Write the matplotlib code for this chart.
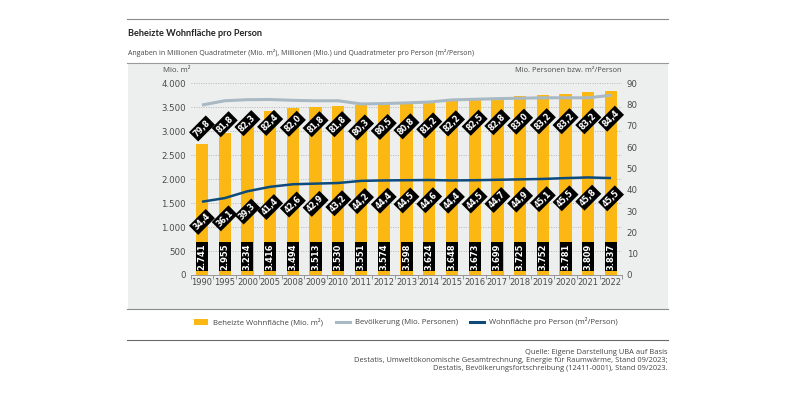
import matplotlib
matplotlib.use("Agg")
import matplotlib.pyplot as plt
from matplotlib.patches import Rectangle, Patch
from matplotlib.lines import Line2D
import numpy as np

years = ["1990", "1995", "2000", "2005", "2008", "2009", "2010", "2011", "2012", "2013",
         "2014", "2015", "2016", "2017", "2018", "2019", "2020", "2021", "2022"]
wohnflaeche = [2741, 2955, 3234, 3416, 3494, 3513, 3530, 3551, 3574, 3598,
               3624, 3648, 3673, 3699, 3725, 3752, 3781, 3809, 3837]
bevoelkerung = [79.8, 81.8, 82.3, 82.4, 82.0, 81.8, 81.8, 80.3, 80.5, 80.8,
                81.2, 82.2, 82.5, 82.8, 83.0, 83.2, 83.2, 83.2, 84.4]
pro_person = [34.4, 36.1, 39.3, 41.4, 42.6, 42.9, 43.2, 44.2, 44.4, 44.5,
              44.6, 44.4, 44.5, 44.7, 44.9, 45.1, 45.5, 45.8, 45.5]

C_BAR = "#FBB814"
C_POP = "#A9B9C4"
C_PP = "#0D4A7C"
C_TXT = "#4a4a4a"
FONT = ["Open Sans", "DejaVu Sans"]

fig = plt.figure(figsize=(8, 4), dpi=100)
W, H = 800, 400

def fx(x): return x / W
def fy(y): return 1 - y / H

# panel background
fig.patches.append(Rectangle((fx(128), fy(309)), fx(668) - fx(128), fy(63) - fy(309),
                             transform=fig.transFigure, facecolor="#EDEFEF", edgecolor="none", zorder=-10))
for yy, c, lw in [(19, "#8a8a8a", 0.8), (63, "#9a9a9a", 0.8), (309, "#8a8a8a", 0.8), (340, "#6a6a6a", 0.8)]:
    fig.add_artist(Line2D([fx(127), fx(668)], [fy(yy), fy(yy)], transform=fig.transFigure,
                          color=c, lw=lw, zorder=-5))

fig.text(fx(128), fy(33), "Beheizte Wohnfläche pro Person", fontsize=6.6, fontweight="bold",
         family=["Lato", "DejaVu Sans"], color="#222222", va="center")
fig.text(fx(128), fy(53), "Angaben in Millionen Quadratmeter (Mio. m²), Millionen (Mio.) und Quadratmeter pro Person (m²/Person)",
         fontsize=5.0, family=FONT, color="#444444", va="center")
fig.text(fx(177), fy(71), "Mio. m²", fontsize=5.6, family=FONT, color=C_TXT, va="center", ha="center")
fig.text(fx(622), fy(71), "Mio. Personen bzw. m²/Person", fontsize=5.4, family=FONT, color=C_TXT,
         va="center", ha="right")

ax = fig.add_axes([fx(190.6), fy(275), fx(622.4) - fx(190.6), fy(83.3) - fy(275)])
ax.set_facecolor("none")
x = np.arange(len(years))
ax.bar(x, wohnflaeche, width=0.54, color=C_BAR, zorder=2)
ax.set_xlim(-0.5, len(years) - 0.5)
ax.set_ylim(0, 4000)
ax.set_yticks(np.arange(0, 4001, 500))
ax.set_yticklabels([f"{v:,}".replace(",", ".") for v in range(0, 4001, 500)])
ax.grid(axis="y", color="#b5b5b5", linestyle=(0, (1, 1.5)), lw=0.7, zorder=1)
ax.set_xticks(x)
ax.set_xticklabels(years)
ax.set_xticks(np.arange(-0.5, len(years), 1), minor=True)
ax.tick_params(axis="x", which="major", length=0, labelsize=6.0, colors=C_TXT, pad=2)
ax.tick_params(axis="x", which="minor", length=3, color="#888888", width=0.6)
ax.tick_params(axis="y", length=0, labelsize=6.2, colors=C_TXT, pad=3.5)
for s in ["top", "right", "left"]:
    ax.spines[s].set_visible(False)
ax.spines["bottom"].set_color("#888888")
ax.spines["bottom"].set_linewidth(0.6)

for xi, v in zip(x, wohnflaeche):
    ax.text(xi, 385, f"{v:,}".replace(",", "."), rotation=90, ha="center", va="center",
            fontsize=6.0, fontweight="bold", color="white", zorder=5,
            bbox=dict(boxstyle="square,pad=0.18", facecolor="black", edgecolor="none"))

ax2 = ax.twinx()
ax2.set_ylim(0, 90)
ax2.set_yticks(np.arange(0, 91, 10))
ax2.tick_params(axis="y", length=0, labelsize=6.2, colors=C_TXT, pad=3)
for s in ax2.spines.values():
    s.set_visible(False)
ax2.plot(x, bevoelkerung, color=C_POP, lw=2.2, zorder=3, solid_capstyle="butt")
ax2.plot(x, pro_person, color=C_PP, lw=1.8, zorder=3, solid_capstyle="butt")

def fmt(v):
    return f"{v:.1f}".replace(".", ",")

for xi, v in zip(x, bevoelkerung):
    ax2.text(xi, v - 11, fmt(v), rotation=45, ha="center", va="center", fontsize=5.8,
             fontweight="bold", color="white", zorder=6, rotation_mode="anchor",
             bbox=dict(boxstyle="square,pad=0.25", facecolor="black", edgecolor="none"))
for xi, v in zip(x, pro_person):
    ax2.text(xi, v - 9.5, fmt(v), rotation=45, ha="center", va="center", fontsize=5.8,
             fontweight="bold", color="white", zorder=6, rotation_mode="anchor",
             bbox=dict(boxstyle="square,pad=0.25", facecolor="black", edgecolor="none"))

handles = [Patch(facecolor=C_BAR, edgecolor="none"),
           Line2D([], [], color=C_POP, lw=2.2),
           Line2D([], [], color=C_PP, lw=2.2)]
labels = ["Beheizte Wohnfläche (Mio. m²)", "Bevölkerung (Mio. Personen)",
          "Wohnfläche pro Person (m²/Person)"]
fig.legend(handles, labels, loc="center", bbox_to_anchor=(fx(406), fy(322)), ncol=3,
           frameon=False, prop={"family": FONT, "size": 5.6}, labelcolor="#444444",
           handlelength=1.8, handleheight=0.9, columnspacing=1.6, handletextpad=0.65)

src = ("Quelle: Eigene Darstellung UBA auf Basis\n"
       "Destatis, Umweltökonomische Gesamtrechnung, Energie für Raumwärme, Stand 09/2023;\n"
       "Destatis, Bevölkerungsfortschreibung (12411-0001), Stand 09/2023.")
fig.text(fx(668), fy(349), src, ha="right", va="top", fontsize=5.4, family=FONT,
         color="#444444", linespacing=1.25)

fig.savefig("out.png", dpi=100, facecolor="white")
